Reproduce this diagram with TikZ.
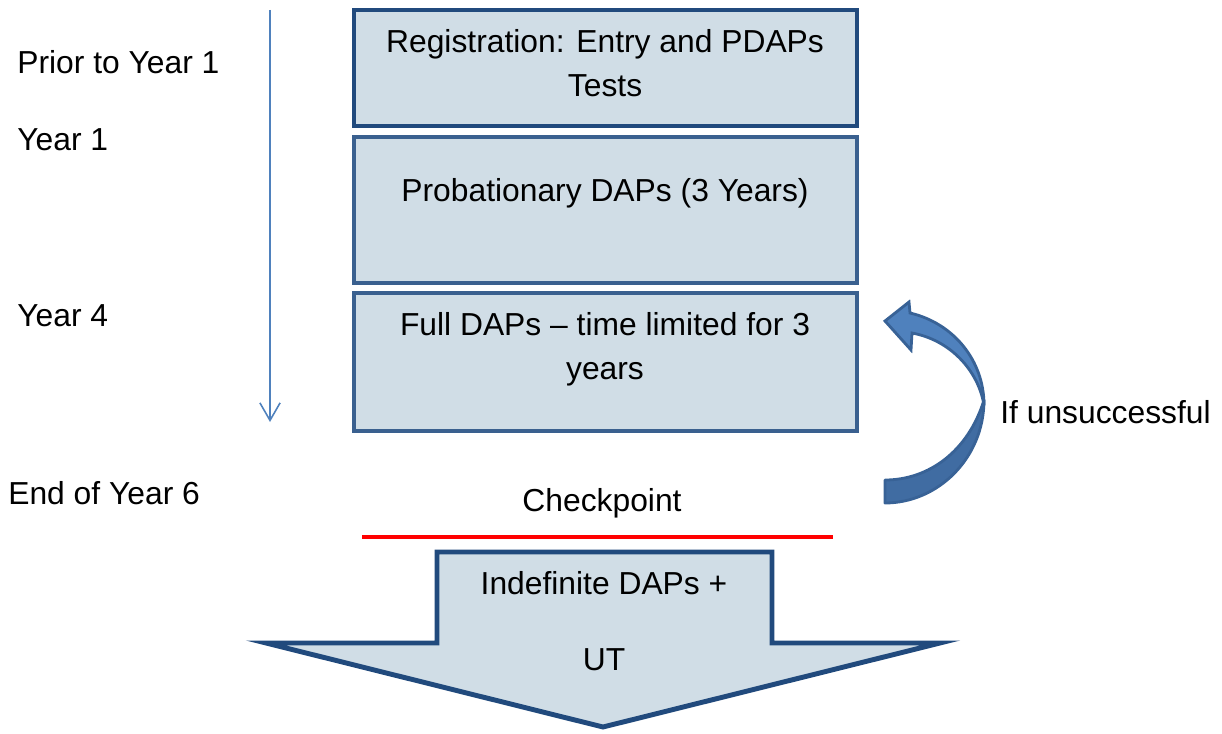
\documentclass[tikz,border=0pt]{standalone}
\usepackage{fontspec}
\setmainfont{Liberation Sans}
\usetikzlibrary{arrows.meta}
\definecolor{boxfill}{RGB}{208,221,230}
\definecolor{navy}{RGB}{33,74,125}
\definecolor{midnavy}{RGB}{58,96,143}
\definecolor{accblue}{RGB}{79,129,189}
\definecolor{accdark}{RGB}{64,108,162}
\definecolor{accline}{RGB}{56,98,150}
\tikzset{
  txt/.style={font=\fontsize{18.1}{21}\selectfont, inner sep=0pt, anchor=base, text=black},
  ltxt/.style={txt, anchor=base west},
  stagebox/.style={draw=midnavy, line width=2.5pt, fill=boxfill, inner sep=0pt},
}
\begin{document}
\begin{tikzpicture}[x=0.02cm,y=-0.02cm]
\useasboundingbox (0,0) rectangle (1222,733);

% timeline arrow
\coordinate (tlstart) at (270,10);
\coordinate (tlend) at (270,422);
\draw[accblue, line width=0.9pt, -{Straight Barb[length=10pt,width=11.5pt]}] (tlstart) -- (tlend);

% stage boxes
\node[stagebox, draw=navy, minimum width=503*0.02cm, minimum height=116*0.02cm] (b1) at (605.5,68) {};
\node[stagebox, minimum width=503*0.02cm, minimum height=146*0.02cm] (b2) at (605.5,210) {};
\node[stagebox, minimum width=503*0.02cm, minimum height=138*0.02cm] (b3) at (605.5,362) {};

\node[txt] (t1a) at (605,53) {Registration: Entry and PDAPs};
\node[txt] (t1b) at (605,97) {Tests};
\node[txt] (t2) at (605,201) {Probationary DAPs (3 Years)};
\node[txt] (t3a) at (605,335) {Full DAPs -- time limited for 3};
\node[txt] (t3b) at (605,379) {years};

% left labels
\node[ltxt] (l1) at (17,74) {Prior to Year 1};
\node[ltxt] (l2) at (17,151) {Year 1};
\node[ltxt] (l3) at (17,326) {Year 4};
\node[ltxt] (l4) at (8,504) {End of Year 6};

% checkpoint
\node[txt] (cp) at (602,511) {Checkpoint};
\coordinate (redl) at (362,537);
\coordinate (redr) at (833,537);
\draw[red, line width=2.8pt] (redl) -- (redr);

% bottom block arrow
\draw[navy, line width=2.8pt, fill=boxfill, line join=miter, miter limit=20]
  (437,552) -- (772,552) -- (772,643) -- (940,643) -- (603,727) -- (266,643) -- (437,643) -- cycle;
\node[txt] (i1) at (604,594) {Indefinite DAPs +};
\node[txt] (i2) at (604,670) {UT};

% curved arrow (lower, back part)
\draw[accline, line width=1.6pt, fill=accdark, line join=round]
  (984,400) .. controls (984,458) and (938,503) .. (885,503) -- (885,480)
  .. controls (928,480) and (968,452) .. (984,400) -- cycle;
% curved arrow (upper, front part with head)
\draw[accline, line width=1.6pt, fill=accblue, line join=miter]
  (912,333) -- (911,350) -- (885,321) -- (909,302) -- (910,313)
  .. controls (953,323) and (984,360) .. (984,405)
  .. controls (978,370) and (950,340) .. (912,333) -- cycle;

\node[ltxt] (fail) at (1000,423) {If unsuccessful};
\end{tikzpicture}
\end{document}
